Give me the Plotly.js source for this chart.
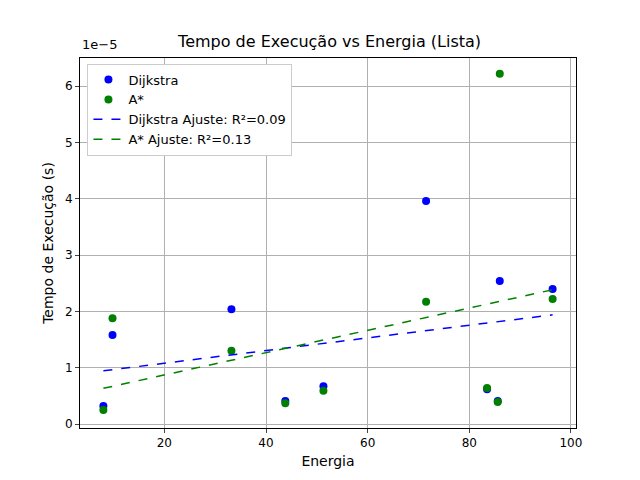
<!DOCTYPE html>
<html>
<head>
<meta charset="utf-8">
<script src="https://cdn.plot.ly/plotly-3.0.1.min.js"></script>
<style>body{margin:0}#chart{width:640px;height:480px}</style>
</head>
<body>
<div id="chart"></div>
<script>
// energia (x) e tempo em unidades de 1e-5 s
const energia = [8.0, 9.8, 33.2, 43.8, 51.3, 71.5, 83.5, 85.6, 86.0, 96.4];
const tempoDijkstra = [0.32, 1.58, 2.04, 0.41, 0.67, 3.96, 0.62, 0.41, 2.54, 2.40];
const tempoAStar = [0.25, 1.88, 1.30, 0.37, 0.59, 2.17, 0.64, 0.39, 6.22, 2.22];

function linFit(x, y) {
  const n = x.length;
  const mx = x.reduce((a, b) => a + b) / n;
  const my = y.reduce((a, b) => a + b) / n;
  let sxy = 0, sxx = 0;
  for (let i = 0; i < n; i++) { sxy += (x[i] - mx) * (y[i] - my); sxx += (x[i] - mx) ** 2; }
  const m = sxy / sxx;
  return [m, my - m * mx];
}

const xr = [Math.min(...energia), Math.max(...energia)];
const [md, bd] = linFit(energia, tempoDijkstra);
const [ma, ba] = linFit(energia, tempoAStar);

const traces = [
  { x: energia, y: tempoDijkstra, mode: "markers", type: "scatter", name: "Dijkstra",
    marker: { color: "blue", size: 8 } },
  { x: energia, y: tempoAStar, mode: "markers", type: "scatter", name: "A*",
    marker: { color: "green", size: 8 } },
  { x: xr, y: xr.map(v => md * v + bd), mode: "lines", name: "Dijkstra Ajuste: R²=0.09",
    line: { color: "blue", dash: "dash", width: 1.5 } },
  { x: xr, y: xr.map(v => ma * v + ba), mode: "lines", name: "A* Ajuste: R²=0.13",
    line: { color: "green", dash: "dash", width: 1.5 } },
];

const axis = {
  showline: true, linecolor: "black", mirror: true, ticks: "outside", ticklen: 4,
  showgrid: true, gridcolor: "#b0b0b0", zeroline: false, tickfont: { size: 12 },
};

const layout = {
  font: { family: "DejaVu Sans", size: 12, color: "black" },
  title: { text: "Tempo de Execução vs Energia (Lista)", x: 0.515, y: 0.925, font: { size: 16 } },
  margin: { l: 80, r: 64, t: 58, b: 52 },
  xaxis: Object.assign({}, axis, { range: [3.4, 101], dtick: 20,
    title: { text: "Energia", standoff: 6 } }),
  yaxis: Object.assign({}, axis, { range: [-0.07, 6.5], dtick: 1,
    title: { text: "Tempo de Execução (s)", standoff: 8 } }),
  showlegend: true,
  legend: { x: 0.015, y: 0.985, bgcolor: "white", bordercolor: "#cccccc", borderwidth: 1,
    font: { size: 13 } },
  annotations: [{ text: "1e−5", xref: "paper", yref: "paper", x: 0, y: 1, yshift: 4,
    xanchor: "left", yanchor: "bottom", showarrow: false, font: { size: 13 } }],
  plot_bgcolor: "white", paper_bgcolor: "white",
};

Plotly.newPlot("chart", traces, layout, { displayModeBar: false });
</script>
</body>
</html>
